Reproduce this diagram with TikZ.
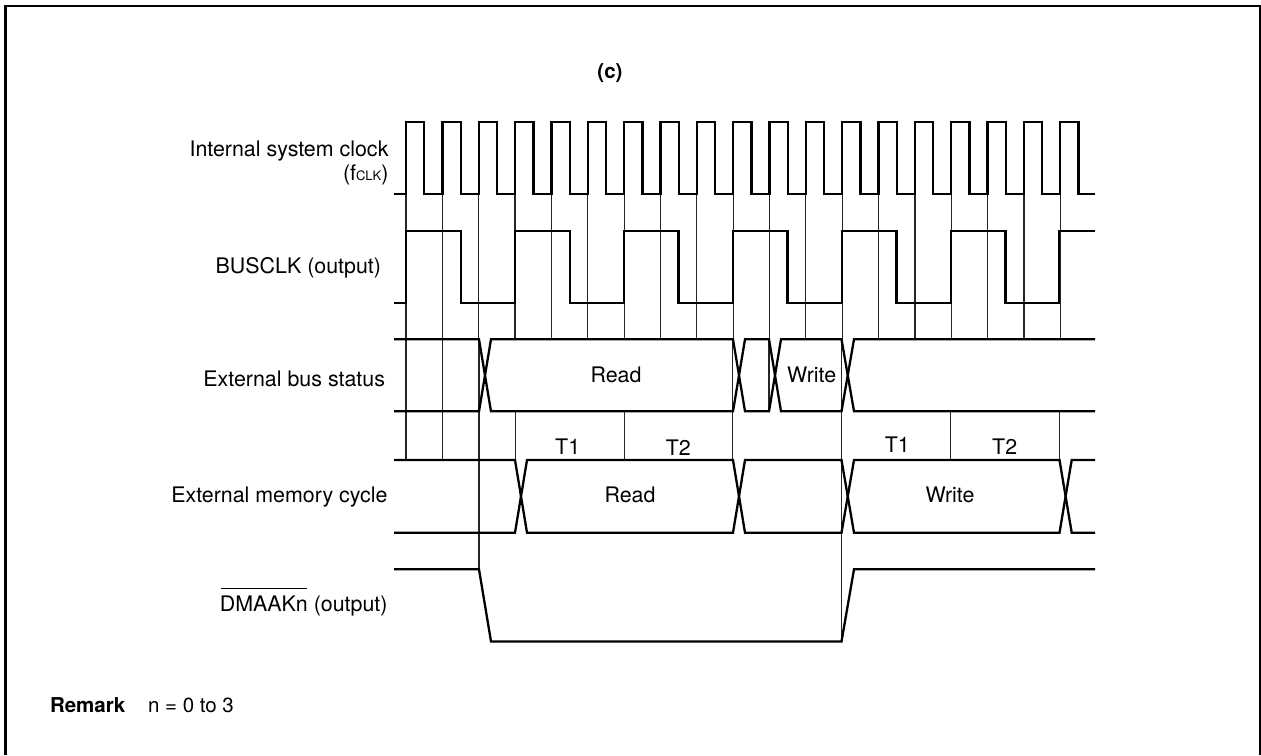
\documentclass[tikz,border=0pt]{standalone}
\usepackage{fontspec}
\setmainfont{TeX Gyre Heros}
\newcommand{\lblsize}{\fontsize{21.4}{24}\selectfont}
\newcommand{\subsize}{\fontsize{13}{16}\selectfont}
\newcommand{\remsize}{\fontsize{20.5}{24}\selectfont}
\tikzset{
  sig/.style={line width=2.3pt,black,line join=miter},
  guide/.style={line width=1.2pt,black!85},
  framepath/.style={line width=2.4pt,black,line join=miter},
  lab/.style={inner sep=0pt,outer sep=0pt,font=\lblsize,text=black},
  sidelab/.style={lab,anchor=base east},
  midlab/.style={lab,anchor=base}
}
\begin{document}
\begin{tikzpicture}[x=1pt,y=-1pt]
\useasboundingbox (0,0) rectangle (1261,755);
\fill[white] (0,0) rectangle (1261,755);
\draw[framepath] (5.5,755) -- (5.5,6) -- (1259.7,6) -- (1259.7,755);
% levels
\def\clkH{121.7}\def\clkL{194.3}
\def\busH{230.7}\def\busL{302.7}
\def\stT{339.3}\def\stB{411.3}
\def\mcT{460}\def\mcB{532.7}
\def\dmaH{569.3}\def\dmaL{641.5}
% guides from the clock edges
\foreach \i in {0,1,...,18}
  \draw[guide] ({406+36.35*\i},\clkL) -- ({406+36.35*\i},\stT);
\foreach \i in {0,1}
  \draw[guide] ({406+36.35*\i},\stT) -- ({406+36.35*\i},\mcT);
\draw[guide] (479,\stT) -- (479,\dmaH);
\foreach \x in {515.7,624.1,950.3,1059.3}
  \draw[guide] (\x,\stB) -- (\x,\mcT);
\draw[guide] (732.6,\stT) -- (732.6,\mcT);
\draw[guide] (769,\stT) -- (769,\stB);
\draw[guide] (841.5,\stT) -- (841.5,\dmaL);
% clock
\draw[sig] (394,\clkL) foreach \i in {0,1,...,18} {
  -- ({406+36.35*\i},\clkL) -- ({406+36.35*\i},\clkH)
  -- ({424.3+36.35*\i},\clkH) -- ({424.3+36.35*\i},\clkL)
} -- (1095,\clkL);
% BUSCLK
\draw[sig] (394,\busL) foreach \i in {0,1,...,5} {
  -- ({406+108.95*\i},\busL) -- ({406+108.95*\i},\busH)
  -- ({460.7+108.95*\i},\busH) -- ({460.7+108.95*\i},\busL)
} -- (1059.3,\busL) -- (1059.3,\busH) -- (1095,\busH);
% external bus status
\draw[sig] (394,\stT) -- (479,\stT) -- (491,\stB) -- (733,\stB) -- (745,\stT) -- (769,\stT) -- (781,\stB) -- (841.5,\stB) -- (854,\stT) -- (1095,\stT);
\draw[sig] (394,\stB) -- (479,\stB) -- (491,\stT) -- (733,\stT) -- (745,\stB) -- (769,\stB) -- (781,\stT) -- (841.5,\stT) -- (854,\stB) -- (1095,\stB);
% external memory cycle
\draw[sig] (394,\mcT) -- (515,\mcT) -- (527,\mcB) -- (733,\mcB) -- (745,\mcT) -- (841.5,\mcT) -- (854,\mcB) -- (1059.5,\mcB) -- (1071.7,\mcT) -- (1095,\mcT);
\draw[sig] (394,\mcB) -- (515,\mcB) -- (527,\mcT) -- (733,\mcT) -- (745,\mcB) -- (841.5,\mcB) -- (854,\mcT) -- (1059.5,\mcT) -- (1071.7,\mcB) -- (1095,\mcB);
% DMAAKn
\draw[sig] (394,\dmaH) -- (479,\dmaH) -- (491,\dmaL) -- (841.5,\dmaL) -- (854,\dmaH) -- (1095,\dmaH);
% labels
\node[lab,anchor=base,font=\remsize\bfseries] (title) at (610,78.5) {(c)};
\node[sidelab] (clkA) at (388.5,156.7) {Internal system clock};
\node[sidelab] (clkB) at (388.5,180.5) {(f{\subsize CLK})};
\node[sidelab] (bus) at (381,273) {BUSCLK (output)};
\node[sidelab] (stat) at (385,386.5) {External bus status};
\node[sidelab] (mem) at (387.5,502.7) {External memory cycle};
\node[sidelab] (dma) at (387.5,611.7) {\rlap{\raisebox{22.5pt}{\hspace{1.5pt}\rule{86pt}{0.9pt}}}DMAAKn (output)};
\node[midlab] (rd1) at (616,382.7) {Read};
\node[midlab] (wr1) at (811.7,382.7) {Write};
\node[midlab] (rd2) at (630,502.7) {Read};
\node[midlab] (wr2) at (950,502.7) {Write};
\node[midlab] (t1a) at (567.7,454) {T1};
\node[midlab] (t2a) at (678.3,455) {T2};
\node[midlab] (t1b) at (897.3,452.7) {T1};
\node[midlab] (t2b) at (1004.7,454) {T2};
\node[lab,anchor=base west,font=\remsize\bfseries] (rem) at (50,712.7) {Remark};
\node[lab,anchor=base west,font=\remsize] (remt) at (148,712.7) {n = 0 to 3};
\end{tikzpicture}
\end{document}
